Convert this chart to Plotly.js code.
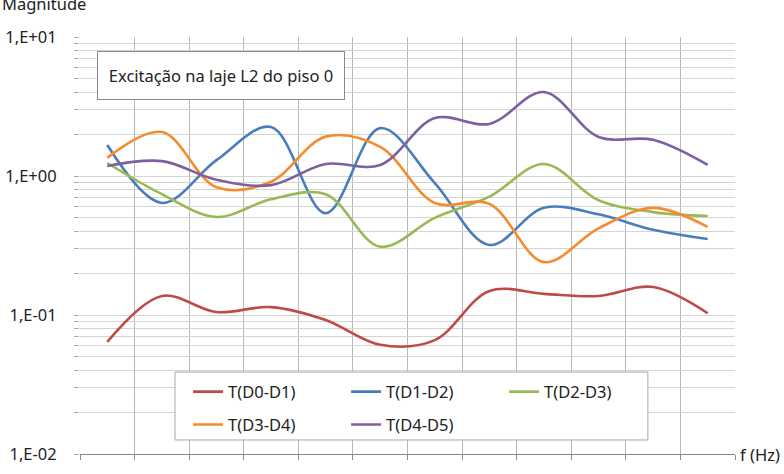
<!DOCTYPE html>
<html>
<head>
<meta charset="utf-8">
<script src="https://cdn.plot.ly/plotly-3.0.1.min.js"></script>
<style>html,body{margin:0;padding:0;background:#fff;}#chart{width:784px;height:474px;}</style>
</head>
<body>
<div id="chart"></div>
<script>
// positions of the 12 frequency samples (category centres)
const xCat = [0.5,1.5,2.5,3.5,4.5,5.5,6.5,7.5,8.5,9.5,10.5,11.5];

const seriesNames = ["T(D0-D1)","T(D1-D2)","T(D2-D3)","T(D3-D4)","T(D4-D5)"];
const tD0D1 = [0.064,0.137,0.105,0.114,0.092,0.061,0.066,0.149,0.142,0.137,0.159,0.103];
const tD1D2 = [1.67,0.64,1.30,2.25,0.54,2.21,0.89,0.319,0.59,0.53,0.41,0.352];
const tD2D3 = [1.24,0.74,0.507,0.68,0.74,0.31,0.50,0.71,1.22,0.67,0.55,0.515];
const tD3D4 = [1.35,2.07,0.83,0.91,1.92,1.62,0.64,0.63,0.24,0.42,0.59,0.43];
const tD4D5 = [1.18,1.28,0.94,0.86,1.22,1.20,2.61,2.37,4.02,1.91,1.82,1.20];
const seriesColors = ["#BE4B48","#4A7EBB","#98B954","#F68B2C","#7D60A0"];
const legendRow = ["legend","legend","legend","legend2","legend2"];

const yTickVals = [];
const yTickText = [];
[0.01,0.1,1].forEach(function(d){
  for (let k=1;k<=9;k++){ yTickVals.push(d*k); yTickText.push(k===1 ? (d===0.01?"1,E-02":d===0.1?"1,E-01":"1,E+00") : ""); }
});
yTickVals.push(10); yTickText.push("1,E+01");

const allY = [tD0D1,tD1D2,tD2D3,tD3D4,tD4D5];
const traces = allY.map(function(ys,i){
  return {x:xCat, y:ys, name:seriesNames[i], type:"scatter", mode:"lines", legend:legendRow[i],
    line:{color:seriesColors[i], width:2.6, shape:"spline", smoothing:1}};
});

const font = "Noto Sans, Open Sans, sans-serif";
const legFont = {family:font, size:16.5, color:"#222"};
const legCommon = {orientation:"h", xanchor:"left", yanchor:"middle",
    entrywidth:113, entrywidthmode:"pixels", borderwidth:0, bgcolor:"rgba(0,0,0,0)", font:legFont};
const layout = {
  width:784, height:474,
  margin:{l:80, r:49, t:37, b:20},
  paper_bgcolor:"#fff", plot_bgcolor:"#fff",
  font:{family:font, size:16, color:"#222"},
  showlegend:true,
  legend:Object.assign({x:0.165, y:0.149}, legCommon),
  legend2:Object.assign({x:0.165, y:0.07}, legCommon),
  xaxis:{range:[0,12], dtick:1, tick0:0, showgrid:true, gridcolor:"#b8b8b8", gridwidth:1,
    showticklabels:false, ticks:"outside", ticklen:5, tickcolor:"#888",
    showline:true, linecolor:"#888", linewidth:1, zeroline:false, fixedrange:true},
  yaxis:{type:"log", range:[-2,1], tickvals:yTickVals, ticktext:yTickText,
    showgrid:true, gridcolor:"#d4d4d4", gridwidth:1,
    ticks:"outside", ticklen:5, tickcolor:"#aaa", ticklabelstandoff:14,
    showline:false, zeroline:false, tickfont:{size:16.5, color:"#222"}},
  shapes:[
    {type:"rect", xref:"paper", yref:"paper", x0:0.145, x1:0.867, y0:0.0336, y1:0.1966,
     line:{color:"#a6a6a6", width:1}, fillcolor:"#fff", layer:"above"}
  ],
  annotations:[
    {text:"Excitação na laje L2 do piso 0", xref:"paper", yref:"paper", x:0.215, y:0.908,
     xanchor:"center", yanchor:"middle", showarrow:false, width:228, height:29, borderpad:9,
     bordercolor:"#888", borderwidth:1, bgcolor:"#fff", font:{size:16.5, color:"#222"}},
    {text:"f (Hz)", xref:"paper", yref:"paper", x:1.005, y:0, xanchor:"left", yanchor:"middle",
     showarrow:false, font:{size:16.5, color:"#222"}},
    {text:"Magnitude", xref:"paper", yref:"paper", x:-0.122, y:1.08, xanchor:"left", yanchor:"middle",
     showarrow:false, font:{size:16.5, color:"#222"}}
  ]
};
Plotly.newPlot("chart", traces, layout, {displayModeBar:false, staticPlot:true});
</script>
</body>
</html>
